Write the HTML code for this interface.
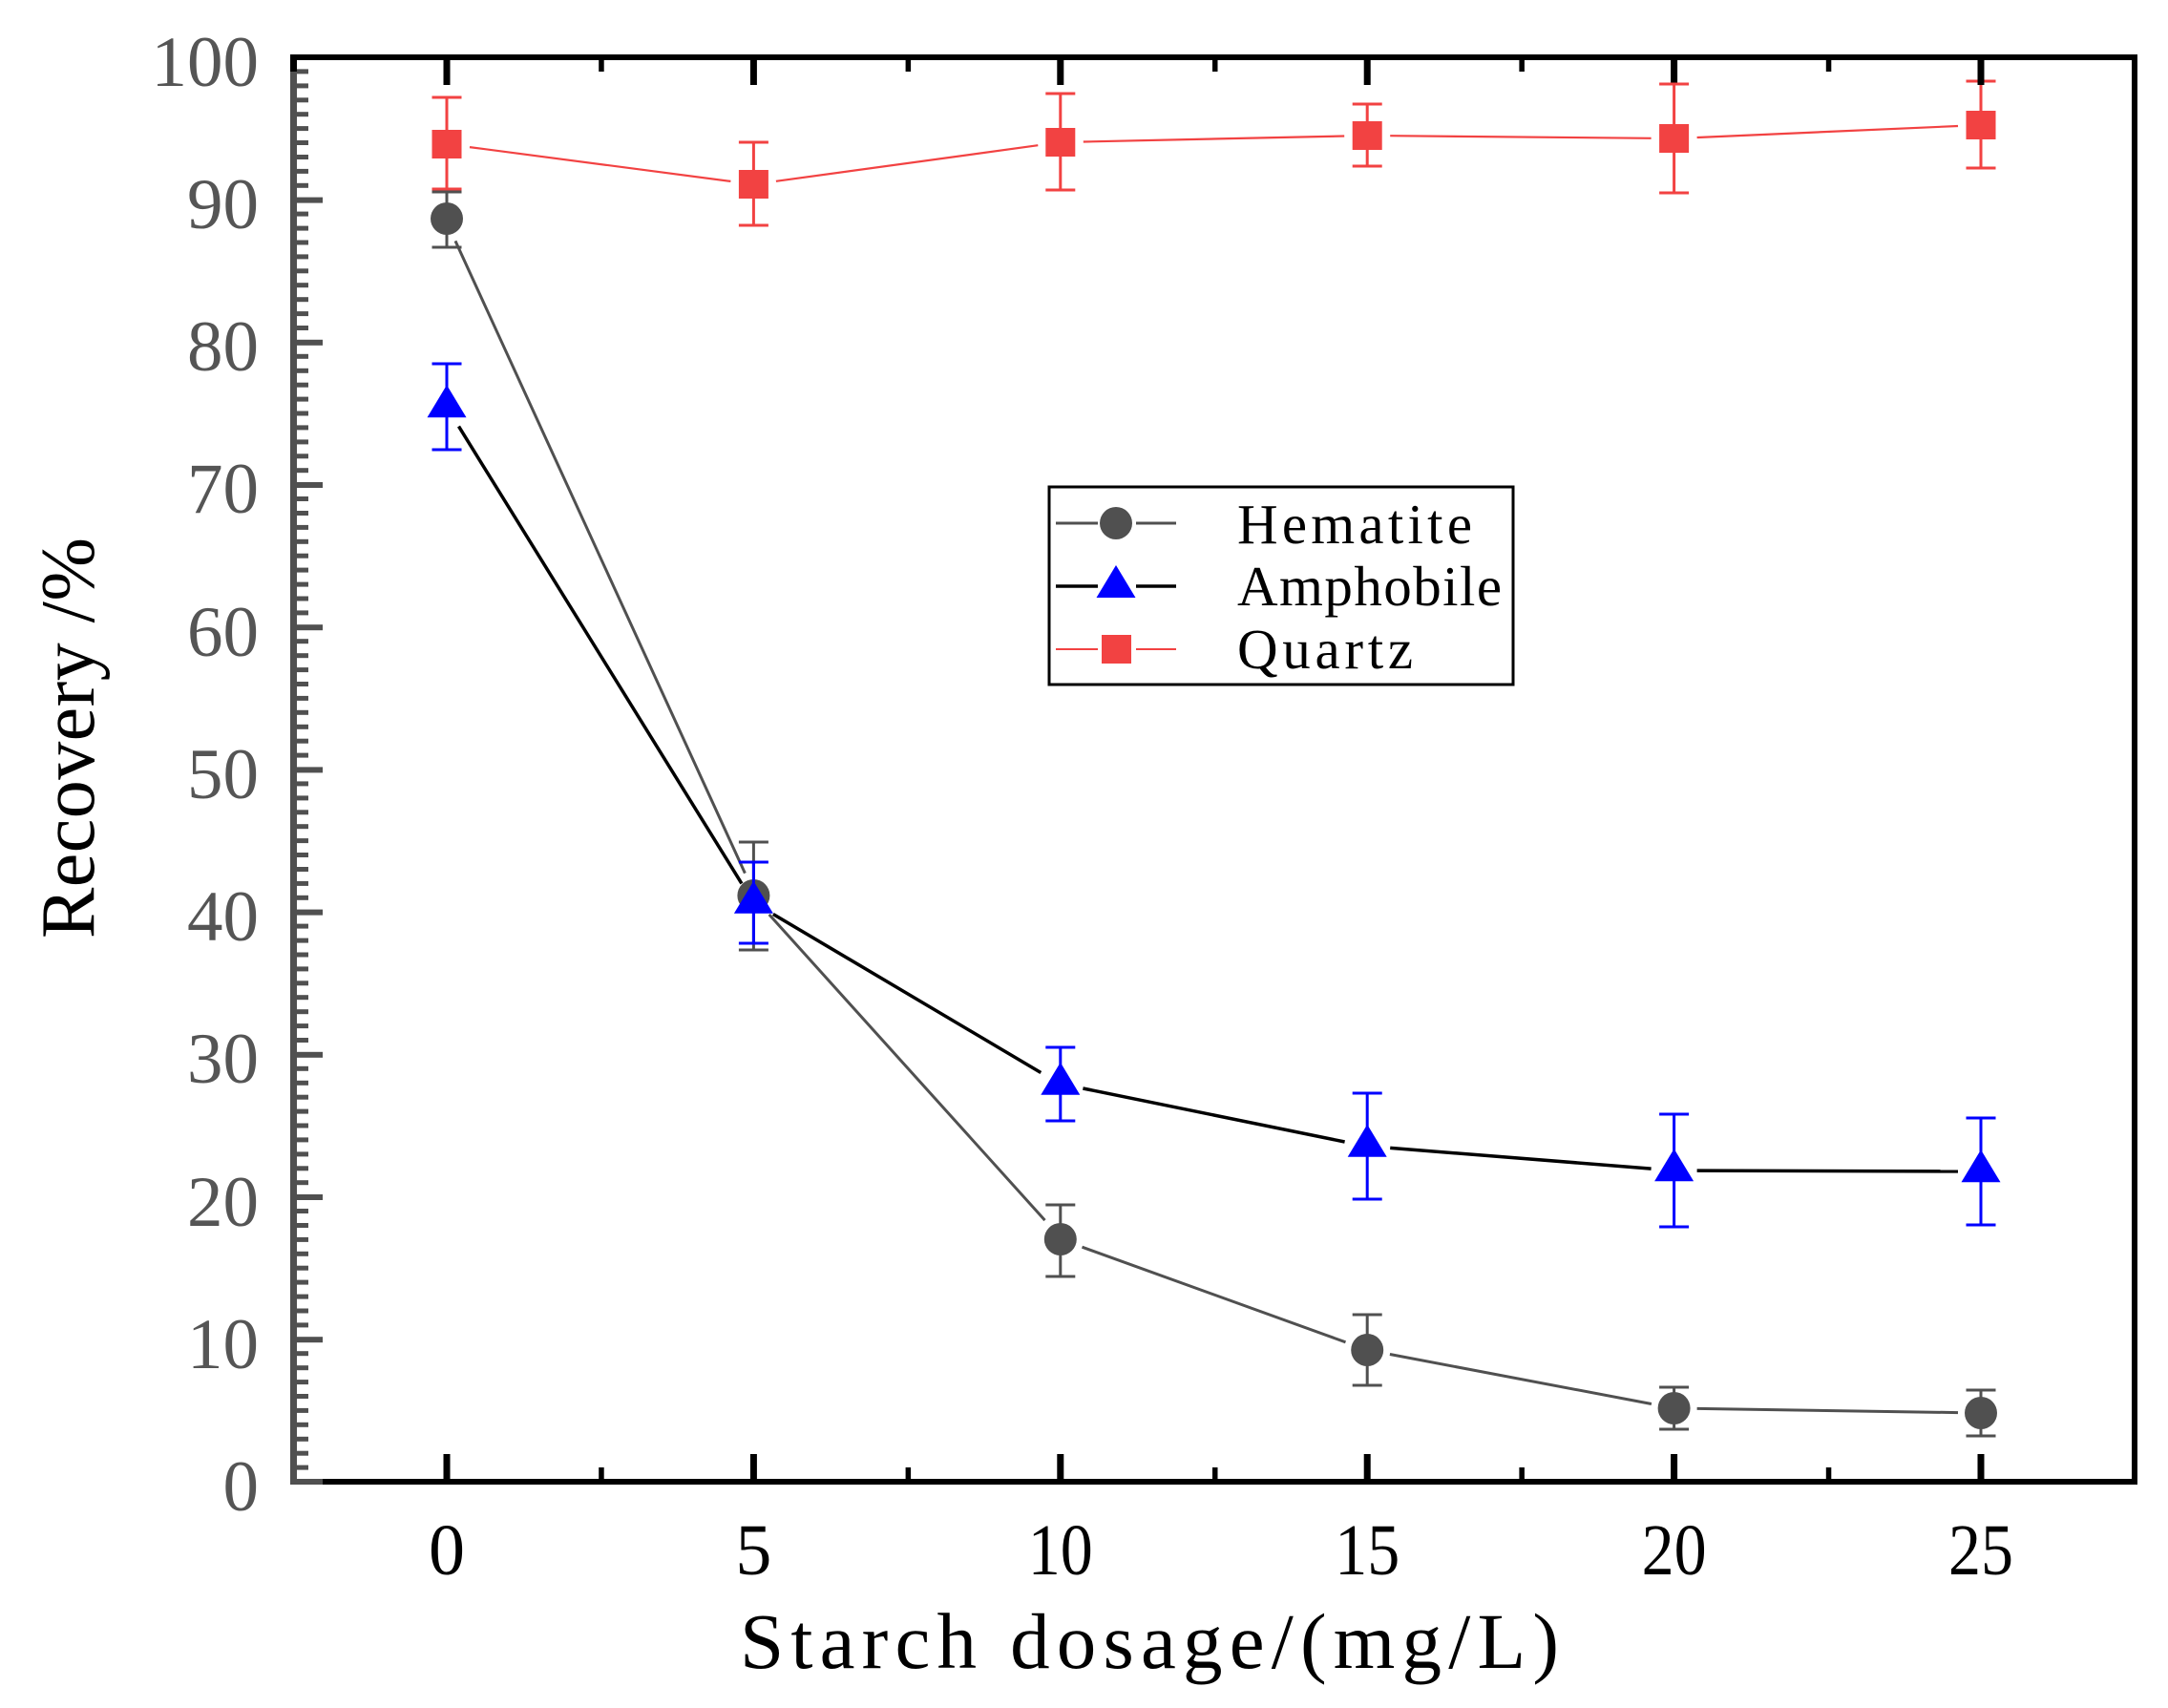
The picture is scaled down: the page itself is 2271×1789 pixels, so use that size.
<!DOCTYPE html>
<html>
<head>
<meta charset="utf-8">
<style>
  html, body { margin:0; padding:0; background:#ffffff; }
  body { width:2271px; height:1789px; overflow:hidden; }
  svg { display:block; }
  text { font-family: "Liberation Serif", "Noto Serif CJK SC", serif; }
</style>
</head>
<body>
<svg xmlns="http://www.w3.org/2000/svg" width="2271" height="1789" viewBox="0 0 2271 1789">
  <rect x="0" y="0" width="2271" height="1789" fill="#ffffff"/>

  <!-- ===== Axes frame ===== -->
  <rect x="304" y="57" width="1935" height="6" fill="#000"/>
  <rect x="2233" y="57" width="6" height="1498" fill="#000"/>
  <rect x="304" y="1549" width="1935" height="6" fill="#000"/>
  <rect x="304" y="57" width="7" height="1498" fill="#505050"/>
  <rect x="304" y="57" width="7" height="18" fill="#000"/>
  <rect x="304" y="1549" width="34" height="6" fill="#505050"/>

  <!-- left minor ticks -->
  <g fill="#505050">
    <rect x="311" y="1534.6" width="12" height="5"/><rect x="311" y="1519.7" width="12" height="5"/><rect x="311" y="1504.8" width="12" height="5"/><rect x="311" y="1489.8" width="12" height="5"/><rect x="311" y="1474.9" width="12" height="5"/><rect x="311" y="1460.0" width="12" height="5"/><rect x="311" y="1445.1" width="12" height="5"/><rect x="311" y="1430.2" width="12" height="5"/><rect x="311" y="1415.2" width="12" height="5"/>
    <rect x="311" y="1385.4" width="12" height="5"/><rect x="311" y="1370.5" width="12" height="5"/><rect x="311" y="1355.6" width="12" height="5"/><rect x="311" y="1340.6" width="12" height="5"/><rect x="311" y="1325.7" width="12" height="5"/><rect x="311" y="1310.8" width="12" height="5"/><rect x="311" y="1295.9" width="12" height="5"/><rect x="311" y="1281.0" width="12" height="5"/><rect x="311" y="1266.0" width="12" height="5"/>
    <rect x="311" y="1236.2" width="12" height="5"/><rect x="311" y="1221.3" width="12" height="5"/><rect x="311" y="1206.4" width="12" height="5"/><rect x="311" y="1191.4" width="12" height="5"/><rect x="311" y="1176.5" width="12" height="5"/><rect x="311" y="1161.6" width="12" height="5"/><rect x="311" y="1146.7" width="12" height="5"/><rect x="311" y="1131.8" width="12" height="5"/><rect x="311" y="1116.8" width="12" height="5"/>
    <rect x="311" y="1087.0" width="12" height="5"/><rect x="311" y="1072.1" width="12" height="5"/><rect x="311" y="1057.2" width="12" height="5"/><rect x="311" y="1042.2" width="12" height="5"/><rect x="311" y="1027.3" width="12" height="5"/><rect x="311" y="1012.4" width="12" height="5"/><rect x="311" y="997.5" width="12" height="5"/><rect x="311" y="982.6" width="12" height="5"/><rect x="311" y="967.6" width="12" height="5"/>
    <rect x="311" y="937.8" width="12" height="5"/><rect x="311" y="922.9" width="12" height="5"/><rect x="311" y="908.0" width="12" height="5"/><rect x="311" y="893.0" width="12" height="5"/><rect x="311" y="878.1" width="12" height="5"/><rect x="311" y="863.2" width="12" height="5"/><rect x="311" y="848.3" width="12" height="5"/><rect x="311" y="833.4" width="12" height="5"/><rect x="311" y="818.4" width="12" height="5"/>
    <rect x="311" y="788.6" width="12" height="5"/><rect x="311" y="773.7" width="12" height="5"/><rect x="311" y="758.8" width="12" height="5"/><rect x="311" y="743.8" width="12" height="5"/><rect x="311" y="728.9" width="12" height="5"/><rect x="311" y="714.0" width="12" height="5"/><rect x="311" y="699.1" width="12" height="5"/><rect x="311" y="684.2" width="12" height="5"/><rect x="311" y="669.2" width="12" height="5"/>
    <rect x="311" y="639.4" width="12" height="5"/><rect x="311" y="624.5" width="12" height="5"/><rect x="311" y="609.6" width="12" height="5"/><rect x="311" y="594.6" width="12" height="5"/><rect x="311" y="579.7" width="12" height="5"/><rect x="311" y="564.8" width="12" height="5"/><rect x="311" y="549.9" width="12" height="5"/><rect x="311" y="535.0" width="12" height="5"/><rect x="311" y="520.0" width="12" height="5"/>
    <rect x="311" y="490.2" width="12" height="5"/><rect x="311" y="475.3" width="12" height="5"/><rect x="311" y="460.4" width="12" height="5"/><rect x="311" y="445.4" width="12" height="5"/><rect x="311" y="430.5" width="12" height="5"/><rect x="311" y="415.6" width="12" height="5"/><rect x="311" y="400.7" width="12" height="5"/><rect x="311" y="385.8" width="12" height="5"/><rect x="311" y="370.8" width="12" height="5"/>
    <rect x="311" y="341.0" width="12" height="5"/><rect x="311" y="326.1" width="12" height="5"/><rect x="311" y="311.2" width="12" height="5"/><rect x="311" y="296.2" width="12" height="5"/><rect x="311" y="281.3" width="12" height="5"/><rect x="311" y="266.4" width="12" height="5"/><rect x="311" y="251.5" width="12" height="5"/><rect x="311" y="236.6" width="12" height="5"/><rect x="311" y="221.6" width="12" height="5"/>
    <rect x="311" y="191.8" width="12" height="5"/><rect x="311" y="176.9" width="12" height="5"/><rect x="311" y="162.0" width="12" height="5"/><rect x="311" y="147.0" width="12" height="5"/><rect x="311" y="132.1" width="12" height="5"/><rect x="311" y="117.2" width="12" height="5"/><rect x="311" y="102.3" width="12" height="5"/><rect x="311" y="87.4" width="12" height="5"/><rect x="311" y="72.4" width="12" height="5"/>
  </g>
  <!-- left major ticks -->
  <g fill="#505050">
    <rect x="311" y="1400.2" width="27" height="6"/>
    <rect x="311" y="1251.0" width="27" height="6"/>
    <rect x="311" y="1101.8" width="27" height="6"/>
    <rect x="311" y="952.6" width="27" height="6"/>
    <rect x="311" y="803.4" width="27" height="6"/>
    <rect x="311" y="654.2" width="27" height="6"/>
    <rect x="311" y="505.0" width="27" height="6"/>
    <rect x="311" y="355.8" width="27" height="6"/>
    <rect x="311" y="206.6" width="27" height="6"/>
  </g>

  <!-- top ticks -->
  <g fill="#000">
    <rect x="464.5" y="63" width="7" height="26"/>
    <rect x="785.9" y="63" width="7" height="26"/>
    <rect x="1107.3" y="63" width="7" height="26"/>
    <rect x="1428.7" y="63" width="7" height="26"/>
    <rect x="1750.1" y="63" width="7" height="26"/>
    <rect x="2071.5" y="63" width="7" height="26"/>
    <rect x="627.2" y="63" width="5.5" height="12"/>
    <rect x="948.6" y="63" width="5.5" height="12"/>
    <rect x="1270.0" y="63" width="5.5" height="12"/>
    <rect x="1591.4" y="63" width="5.5" height="12"/>
    <rect x="1912.8" y="63" width="5.5" height="12"/>
  </g>
  <!-- bottom ticks -->
  <g fill="#000">
    <rect x="464.5" y="1523" width="7" height="26"/>
    <rect x="785.9" y="1523" width="7" height="26"/>
    <rect x="1107.3" y="1523" width="7" height="26"/>
    <rect x="1428.7" y="1523" width="7" height="26"/>
    <rect x="1750.1" y="1523" width="7" height="26"/>
    <rect x="2071.5" y="1523" width="7" height="26"/>
    <rect x="627.2" y="1537" width="5.5" height="12"/>
    <rect x="948.6" y="1537" width="5.5" height="12"/>
    <rect x="1270.0" y="1537" width="5.5" height="12"/>
    <rect x="1591.4" y="1537" width="5.5" height="12"/>
    <rect x="1912.8" y="1537" width="5.5" height="12"/>
  </g>

  <!-- Y tick labels -->
  <g fill="#555555" font-size="75" text-anchor="end">
    <text x="271" y="1582">0</text>
    <text x="271" y="1433">10</text>
    <text x="271" y="1284">20</text>
    <text x="271" y="1134">30</text>
    <text x="271" y="985">40</text>
    <text x="271" y="836">50</text>
    <text x="271" y="687">60</text>
    <text x="271" y="537">70</text>
    <text x="271" y="388">80</text>
    <text x="271" y="239">90</text>
    <text x="271" y="90">100</text>
  </g>

  <!-- X tick labels -->
  <g fill="#000" font-size="76" text-anchor="middle">
    <text x="468" y="1649">0</text>
    <text x="789.4" y="1649">5</text>
    <text x="1110.8" y="1649" textLength="68" lengthAdjust="spacingAndGlyphs">10</text>
    <text x="1432.2" y="1649" textLength="68" lengthAdjust="spacingAndGlyphs">15</text>
    <text x="1753.6" y="1649" textLength="68" lengthAdjust="spacingAndGlyphs">20</text>
    <text x="2075" y="1649" textLength="68" lengthAdjust="spacingAndGlyphs">25</text>
  </g>

  <!-- Axis titles -->
  <text x="775" y="1747" font-size="83" fill="#000" textLength="858" lengthAdjust="spacing">Starch dosage/(mg/L)</text>
  <text transform="translate(98,983) rotate(-90)" x="0" y="0" font-size="80" fill="#000" textLength="420" lengthAdjust="spacing">Recovery /%</text>

  <!-- ===== Hematite (gray circles) ===== -->
  <g stroke="#505050" stroke-width="3" fill="none">
    <line x1="477.0" y1="252.4" x2="780.4" y2="914.6"/>
    <line x1="805.7" y1="957.9" x2="1094.5" y2="1278.1"/>
    <line x1="1133.5" y1="1306.2" x2="1409.5" y2="1405.8"/>
    <line x1="1455.9" y1="1418.5" x2="1729.9" y2="1470.5"/>
    <line x1="1777.6" y1="1475.4" x2="2051.0" y2="1479.6"/>
  </g>
  <g stroke="#505050" stroke-width="3">
    <line x1="468" y1="201" x2="468" y2="259"/><line x1="452.5" y1="201" x2="483.5" y2="201"/><line x1="452.5" y1="259" x2="483.5" y2="259"/>
    <line x1="789.4" y1="882" x2="789.4" y2="995"/><line x1="773.9" y1="882" x2="804.9" y2="882"/><line x1="773.9" y1="995" x2="804.9" y2="995"/>
    <line x1="1110.8" y1="1262" x2="1110.8" y2="1337"/><line x1="1095.3" y1="1262" x2="1126.3" y2="1262"/><line x1="1095.3" y1="1337" x2="1126.3" y2="1337"/>
    <line x1="1432.2" y1="1377" x2="1432.2" y2="1451"/><line x1="1416.7" y1="1377" x2="1447.7" y2="1377"/><line x1="1416.7" y1="1451" x2="1447.7" y2="1451"/>
    <line x1="1753.6" y1="1453" x2="1753.6" y2="1497"/><line x1="1738.1" y1="1453" x2="1769.1" y2="1453"/><line x1="1738.1" y1="1497" x2="1769.1" y2="1497"/>
    <line x1="2075" y1="1456" x2="2075" y2="1504"/><line x1="2059.5" y1="1456" x2="2090.5" y2="1456"/><line x1="2059.5" y1="1504" x2="2090.5" y2="1504"/>
  </g>
  <g fill="#505050">
    <circle cx="468" cy="229" r="17"/>
    <circle cx="789.4" cy="938" r="17"/>
    <circle cx="1110.8" cy="1298" r="17"/>
    <circle cx="1432.2" cy="1414" r="17"/>
    <circle cx="1753.6" cy="1475" r="17"/>
    <circle cx="2075" cy="1480" r="17"/>
  </g>

  <!-- ===== Amphobile (blue triangles, black line) ===== -->
  <g stroke="#000" stroke-width="3.5" fill="none">
    <line x1="480.5" y1="446.6" x2="776.9" y2="925.4"/>
    <line x1="809.9" y1="957.5" x2="1090.3" y2="1123.5"/>
    <line x1="1134.4" y1="1140.0" x2="1408.6" y2="1196.0"/>
    <line x1="1456.2" y1="1202.4" x2="1729.6" y2="1224.1"/>
    <line x1="1777.6" y1="1226.1" x2="2051.0" y2="1226.9"/>
  </g>
  <g stroke="#0000ff" stroke-width="3">
    <line x1="468" y1="381" x2="468" y2="471"/><line x1="452.5" y1="381" x2="483.5" y2="381"/><line x1="452.5" y1="471" x2="483.5" y2="471"/>
    <line x1="789.4" y1="903" x2="789.4" y2="988"/><line x1="773.9" y1="903" x2="804.9" y2="903"/><line x1="773.9" y1="988" x2="804.9" y2="988"/>
    <line x1="1110.8" y1="1097" x2="1110.8" y2="1174"/><line x1="1095.3" y1="1097" x2="1126.3" y2="1097"/><line x1="1095.3" y1="1174" x2="1126.3" y2="1174"/>
    <line x1="1432.2" y1="1145" x2="1432.2" y2="1256"/><line x1="1416.7" y1="1145" x2="1447.7" y2="1145"/><line x1="1416.7" y1="1256" x2="1447.7" y2="1256"/>
    <line x1="1753.6" y1="1167" x2="1753.6" y2="1285"/><line x1="1738.1" y1="1167" x2="1769.1" y2="1167"/><line x1="1738.1" y1="1285" x2="1769.1" y2="1285"/>
    <line x1="2075" y1="1171" x2="2075" y2="1283"/><line x1="2059.5" y1="1171" x2="2090.5" y2="1171"/><line x1="2059.5" y1="1283" x2="2090.5" y2="1283"/>
  </g>
  <g fill="#0000ff">
    <polygon points="468,403.3 488.5,437.3 447.5,437.3"/>
    <polygon points="789.4,922.8 809.9,956.8 768.9,956.8"/>
    <polygon points="1110.8,1112.8 1131.3,1146.8 1090.3,1146.8"/>
    <polygon points="1432.2,1177.8 1452.7,1211.8 1411.7,1211.8"/>
    <polygon points="1753.6,1203.3 1774.1,1237.3 1733.1,1237.3"/>
    <polygon points="2075,1204.3 2095.5,1238.3 2054.5,1238.3"/>
  </g>

  <!-- ===== Quartz (red squares) ===== -->
  <g stroke="#f24242" stroke-width="2.2" fill="none">
    <line x1="492.0" y1="154.1" x2="765.4" y2="189.9"/>
    <line x1="812.9" y1="189.8" x2="1087.3" y2="152.2"/>
    <line x1="1134.8" y1="148.5" x2="1408.2" y2="142.5"/>
    <line x1="1456.2" y1="142.2" x2="1729.6" y2="144.8"/>
    <line x1="1777.6" y1="144.0" x2="2051.0" y2="132.0"/>
  </g>
  <g stroke="#f24242" stroke-width="3">
    <line x1="468" y1="102" x2="468" y2="198"/><line x1="452.5" y1="102" x2="483.5" y2="102"/><line x1="452.5" y1="198" x2="483.5" y2="198"/>
    <line x1="789.4" y1="149" x2="789.4" y2="236"/><line x1="773.9" y1="149" x2="804.9" y2="149"/><line x1="773.9" y1="236" x2="804.9" y2="236"/>
    <line x1="1110.8" y1="98" x2="1110.8" y2="199"/><line x1="1095.3" y1="98" x2="1126.3" y2="98"/><line x1="1095.3" y1="199" x2="1126.3" y2="199"/>
    <line x1="1432.2" y1="109" x2="1432.2" y2="174"/><line x1="1416.7" y1="109" x2="1447.7" y2="109"/><line x1="1416.7" y1="174" x2="1447.7" y2="174"/>
    <line x1="1753.6" y1="88" x2="1753.6" y2="202"/><line x1="1738.1" y1="88" x2="1769.1" y2="88"/><line x1="1738.1" y1="202" x2="1769.1" y2="202"/>
    <line x1="2075" y1="85" x2="2075" y2="176"/><line x1="2059.5" y1="85" x2="2090.5" y2="85"/><line x1="2059.5" y1="176" x2="2090.5" y2="176"/>
  </g>
  <rect x="2071.5" y="63" width="7" height="26" fill="#000"/>
  <g fill="#f24242">
    <rect x="452.5" y="136" width="31" height="30"/>
    <rect x="773.9" y="178" width="31" height="30"/>
    <rect x="1095.3" y="134" width="31" height="30"/>
    <rect x="1416.7" y="127" width="31" height="30"/>
    <rect x="1738.1" y="130" width="31" height="30"/>
    <rect x="2059.5" y="116" width="31" height="30"/>
  </g>

  <!-- ===== Legend ===== -->
  <rect x="1099" y="510" width="486" height="207" fill="#ffffff" stroke="#000" stroke-width="3"/>
  <line x1="1106" y1="548" x2="1150" y2="548" stroke="#505050" stroke-width="3"/>
  <line x1="1190" y1="548" x2="1232" y2="548" stroke="#505050" stroke-width="3"/>
  <circle cx="1169" cy="548" r="17" fill="#505050"/>
  <line x1="1106" y1="614" x2="1150" y2="614" stroke="#000" stroke-width="3.5"/>
  <line x1="1190" y1="614" x2="1232" y2="614" stroke="#000" stroke-width="3.5"/>
  <polygon points="1169,592 1189.5,626 1148.5,626" fill="#0000ff"/>
  <line x1="1106" y1="680" x2="1150" y2="680" stroke="#f24242" stroke-width="2"/>
  <line x1="1190" y1="680" x2="1232" y2="680" stroke="#f24242" stroke-width="2"/>
  <rect x="1154" y="665" width="31" height="30" fill="#f24242"/>
  <g fill="#000" font-size="59">
    <text x="1296" y="569" textLength="246" lengthAdjust="spacing">Hematite</text>
    <text x="1296" y="634" textLength="277" lengthAdjust="spacing">Amphobile</text>
    <text x="1296" y="700" textLength="184" lengthAdjust="spacing">Quartz</text>
  </g>
</svg>
</body>
</html>
